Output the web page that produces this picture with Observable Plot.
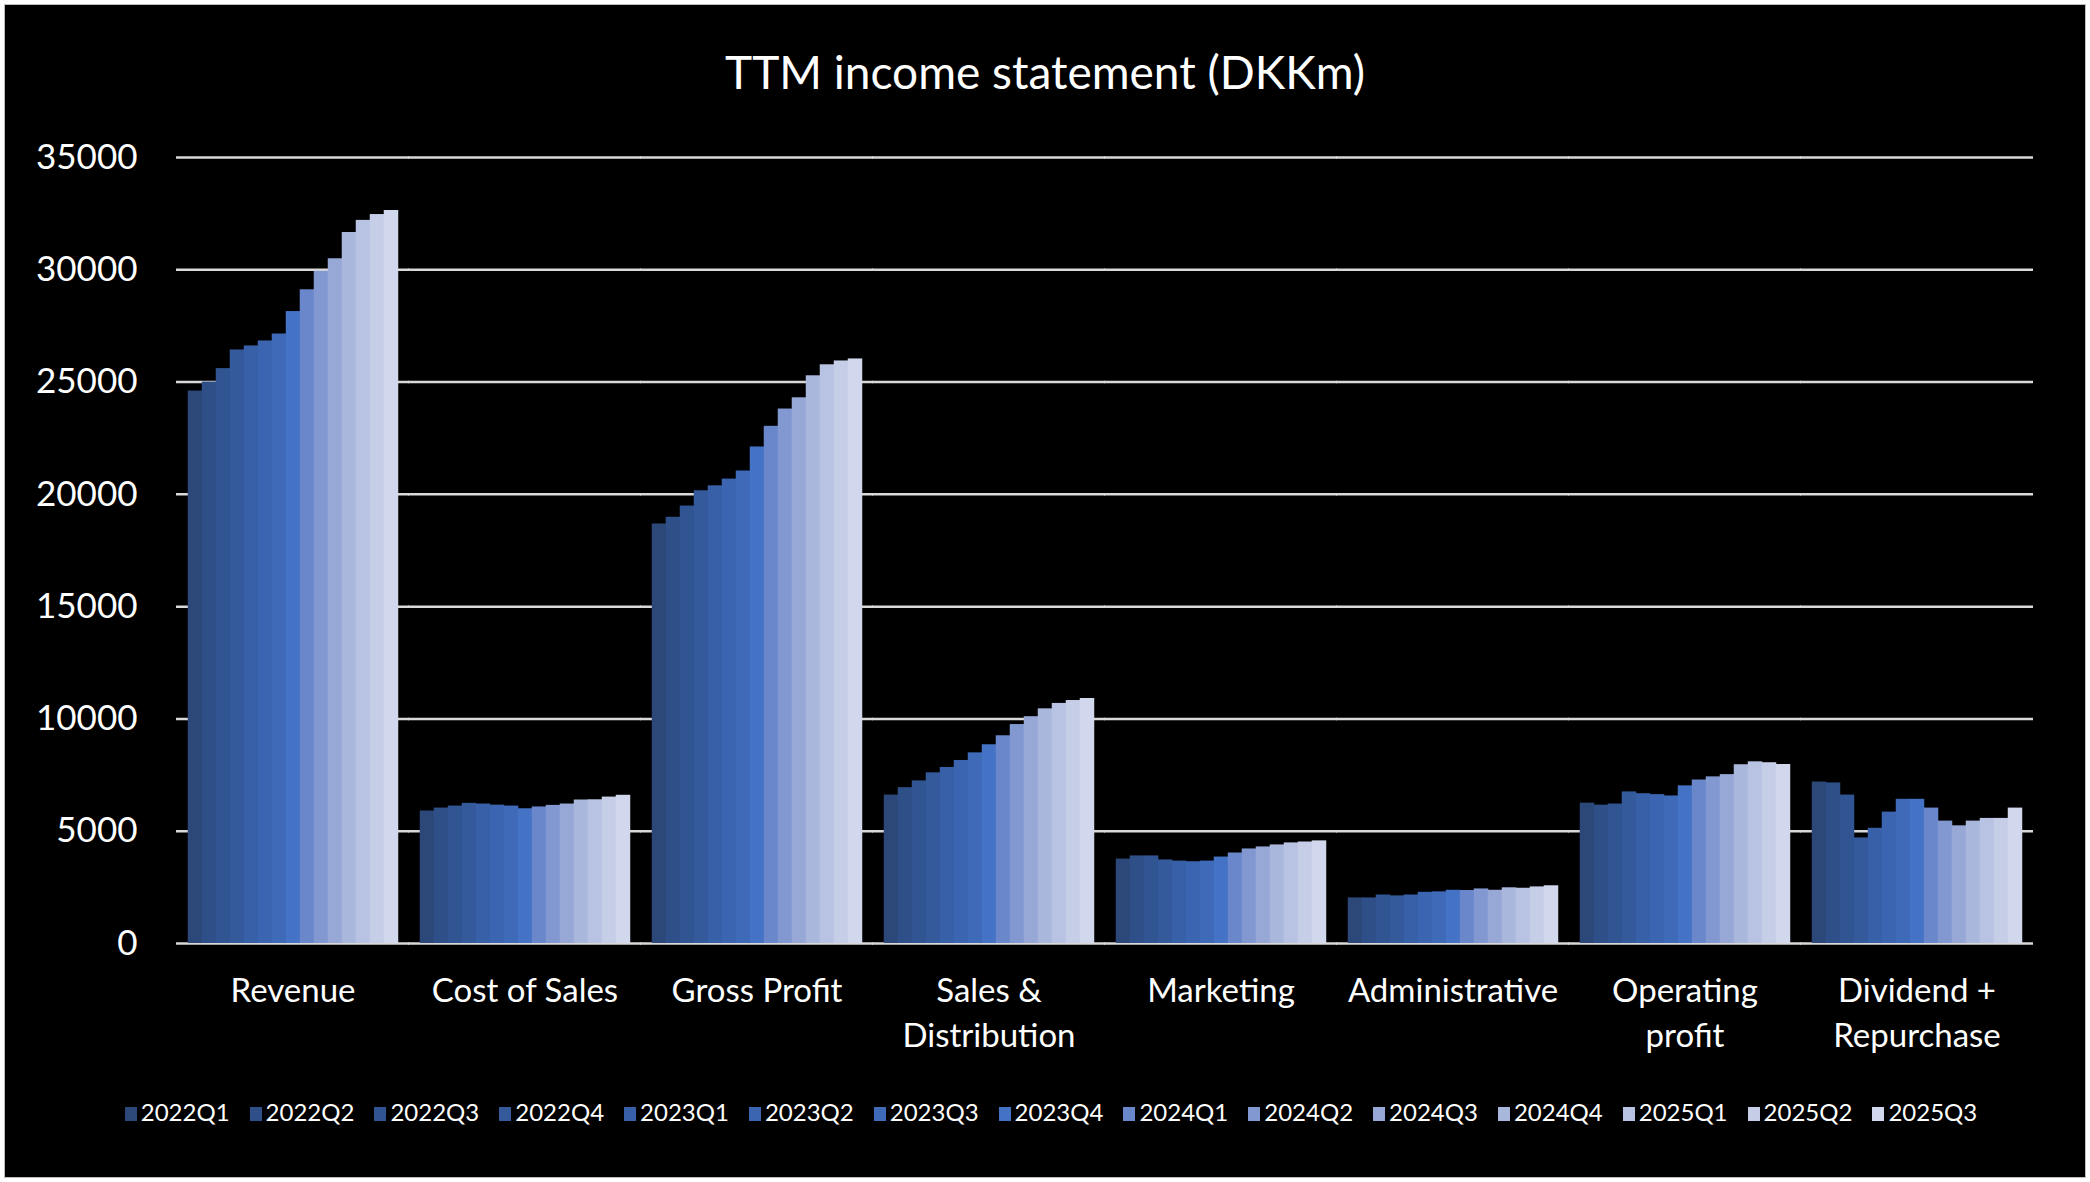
<!DOCTYPE html>
<html>
<head>
<meta charset="utf-8">
<script src="https://cdn.jsdelivr.net/npm/d3@7"></script>
<script src="https://cdn.jsdelivr.net/npm/@observablehq/plot@0.6"></script>
<style>
  html, body { margin: 0; padding: 0; background: #ffffff; }
  #wrap { position: relative; width: 2090px; height: 1182px; overflow: hidden; font-family: Lato, "Open Sans", sans-serif; }
  #panel { position: absolute; left: 5px; top: 5px; width: 2080px; height: 1172px; background: #000; box-shadow: 0 0 0 1px #bdbdbd; }
  #title { position: absolute; left: 0; width: 2090px; top: 44px; text-align: center; color: #fff; font-size: 46px; line-height: 56px; }
  #chart { position: absolute; left: 0; top: 100px; }
  #legend { position: absolute; left: 6px; width: 2090px; top: 1097px; display: flex; justify-content: center; gap: 20px; color: #fff; font-size: 24px; line-height: 30px; }
  .item { display: flex; align-items: center; gap: 4px; }
  .sw { width: 12px; height: 14px; display: inline-block; margin-top: 4px; }
</style>
</head>
<body>
<div id="wrap">
  <div id="panel"></div>
  <div id="title">TTM income statement (DKKm)</div>
  <div id="chart"></div>
  <div id="legend"></div>
</div>
<script>
const categories = ["Revenue", "Cost of Sales", "Gross Profit", "Sales & Distribution", "Marketing", "Administrative", "Operating profit", "Dividend + Repurchase"];
const categoryLabels = ["Revenue", "Cost of Sales", "Gross Profit", "Sales &\nDistribution", "Marketing", "Administrative", "Operating\nprofit", "Dividend +\nRepurchase"];
const periods = ["2022Q1", "2022Q2", "2022Q3", "2022Q4", "2023Q1", "2023Q2", "2023Q3", "2023Q4", "2024Q1", "2024Q2", "2024Q3", "2024Q4", "2025Q1", "2025Q2", "2025Q3"];

const revenue        = [24600, 25000, 25600, 26430, 26610, 26830, 27140, 28140, 29110, 29930, 30490, 31660, 32200, 32460, 32640];
const costOfSales    = [5900, 6030, 6120, 6240, 6210, 6160, 6120, 6000, 6080, 6150, 6210, 6390, 6400, 6520, 6600];
const grossProfit    = [18680, 18980, 19480, 20160, 20380, 20680, 21040, 22110, 23030, 23800, 24300, 25280, 25770, 25940, 26030];
const salesDistrib   = [6610, 6940, 7240, 7600, 7840, 8150, 8490, 8850, 9250, 9750, 10100, 10450, 10690, 10820, 10910];
const marketing      = [3760, 3900, 3900, 3720, 3670, 3640, 3670, 3850, 4030, 4210, 4300, 4390, 4480, 4520, 4570];
const administrative = [2030, 2030, 2160, 2120, 2160, 2280, 2300, 2370, 2360, 2430, 2370, 2480, 2460, 2520, 2570];
const operatingProfit= [6250, 6160, 6210, 6750, 6670, 6630, 6570, 7020, 7280, 7420, 7520, 7960, 8090, 8050, 7970];
const dividendRepurch= [7190, 7150, 6610, 4700, 5130, 5850, 6420, 6420, 6030, 5450, 5240, 5450, 5570, 5570, 6030];

const yTicks = [0, 5000, 10000, 15000, 20000, 25000, 30000, 35000];
const colors = ["#2c4878", "#2f4f88", "#315592", "#345a9c", "#3860a8", "#3b65b0", "#3f6ab8", "#4472c4", "#6a87cc", "#8198d0", "#97a8d6", "#aab7dc", "#b8c2e2", "#c5cde7", "#d1d7ec"];

const seriesByCategory = [revenue, costOfSales, grossProfit, salesDistrib, marketing, administrative, operatingProfit, dividendRepurch];
const data = [];
categories.forEach((c, ci) => {
  periods.forEach((p, pi) => data.push({category: c, period: p, value: seriesByCategory[ci][pi]}));
});
const labelOf = new Map(categories.map((c, i) => [c, categoryLabels[i]]));

const chart = Plot.plot({
  width: 2090,
  height: 1000,
  marginTop: 57,
  marginBottom: 157,
  marginLeft: 177,
  marginRight: 57,
  style: {background: "transparent", color: "#ffffff", fontFamily: "Lato, 'Open Sans', sans-serif"},
  fx: {domain: categories, paddingInner: 0.09, paddingOuter: 0.045, label: null},
  x: {domain: periods, padding: 0, axis: null},
  y: {domain: [0, 35000], label: null},
  color: {domain: periods, range: colors},
  marks: [
    Plot.ruleY(yTicks, {stroke: "#d9d9d9", strokeWidth: 2.5, insetLeft: -11, insetRight: -11}),
    Plot.barY(data, {fx: "category", x: "period", y: "value", fill: "period", insetLeft: -0.25, insetRight: -0.25}),
    Plot.axisY({ticks: yTicks, tickSize: 0, tickPadding: 50, fontSize: 35, label: null, tickFormat: d => String(d)}),
    Plot.axisFx({anchor: "bottom", tickSize: 0, tickPadding: 27, fontSize: 33, lineHeight: 1.36, label: null, tickFormat: d => labelOf.get(d)})
  ]
});
document.getElementById("chart").appendChild(chart);

const legend = document.getElementById("legend");
periods.forEach((p, i) => {
  const item = document.createElement("div");
  item.className = "item";
  const sw = document.createElement("span");
  sw.className = "sw";
  sw.style.background = colors[i];
  const t = document.createElement("span");
  t.textContent = p;
  item.appendChild(sw);
  item.appendChild(t);
  legend.appendChild(item);
});
</script>
</body>
</html>
